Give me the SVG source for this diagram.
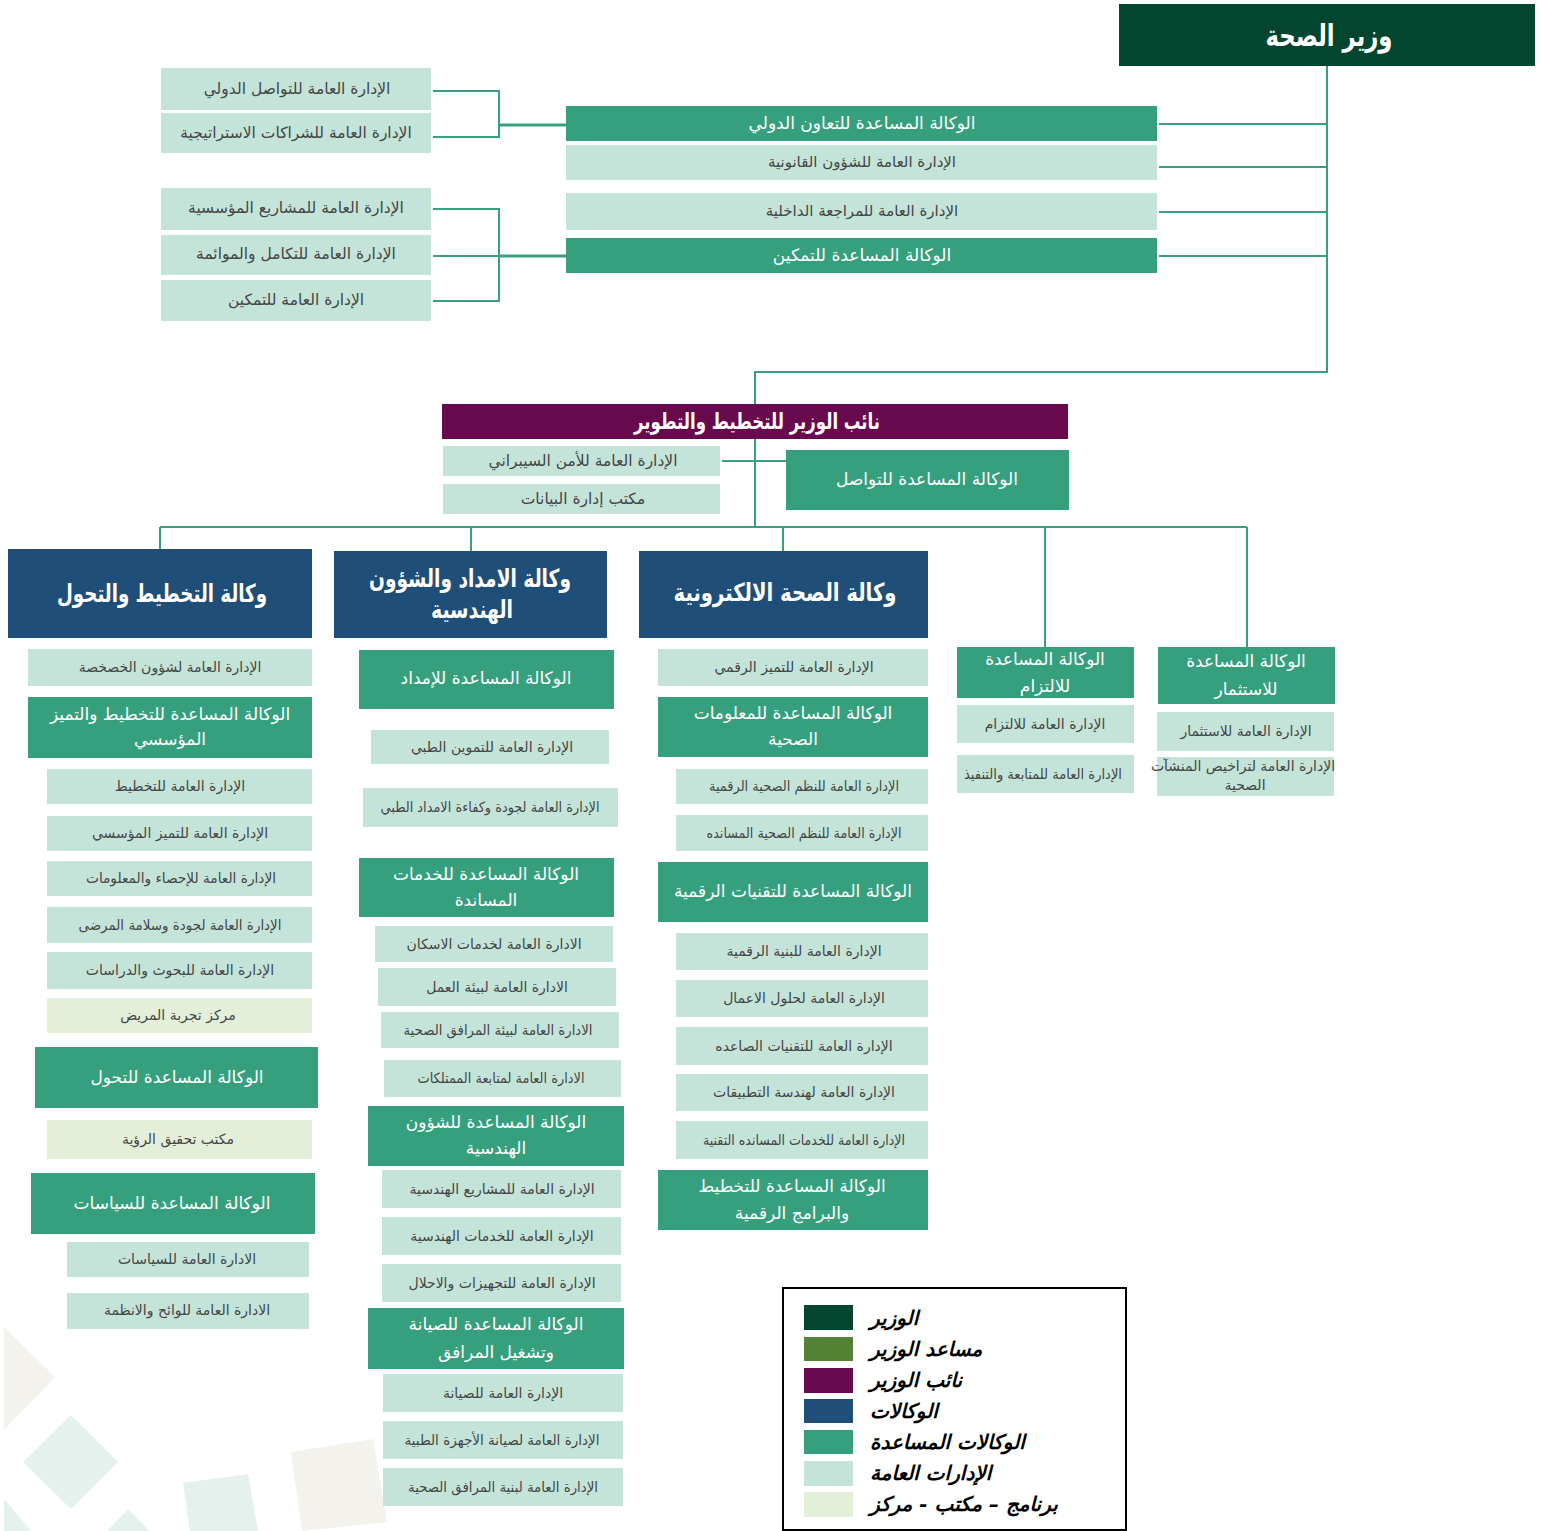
<svg xmlns="http://www.w3.org/2000/svg" width="1541" height="1531" viewBox="0 0 1541 1531">
<style>
.min{fill:#03452E}.dep{fill:#68084D}.ag{fill:#1F4E79}.asg{fill:#36A07E}.ga{fill:#C4E4DA}.pr{fill:#E3EFD8}
text{font-family:"DejaVu Sans",sans-serif;text-anchor:middle;dominant-baseline:central}
.t{fill:#454545;font-size:14px}
.tt{fill:#454545;font-size:15.5px}
.w{fill:#ffffff;font-size:17px}
.b{fill:#ffffff;font-size:25px;font-weight:bold}
.c path{fill:none;stroke:#3A9F7C;stroke-width:2}
.lg{fill:#000;font-size:20px;font-style:italic;font-weight:bold;text-anchor:start}
</style>
<rect width="1541" height="1531" fill="#ffffff"/>
<g id="decor">
<polygon points="4,1327 55,1377 4,1430" fill="#F3F2EC"/>
<polygon points="23,1462 71,1415 118,1462 71,1509" fill="#E4F1EC"/>
<polygon points="4,1499 31,1531 4,1531" fill="#E4F1EC"/>
<polygon points="107,1531 128,1509 150,1531" fill="#E4F1EC"/>
<polygon points="183,1483 248,1474 258,1531 190,1531" fill="#E4F1EC"/>
<polygon points="291,1452 373,1439 387,1522 302,1531" fill="#F3F2EC"/>
</g>
<g id="connectors" class="c">
<path d="M1327 66V372H755V404"/>
<path d="M1159 124H1327M1159 167H1327M1159 212H1327M1159 256H1327"/>
<path d="M433 91H499V137H433"/>
<path d="M499 125H566" style="stroke-width:3"/>
<path d="M433 209H499V301H433M433 256H499"/>
<path d="M499 256H566" style="stroke-width:3"/>
<path d="M755 439V527M722 461H786"/>
<path d="M160 527H1247M160 527V549M471 527V551M783 527V551M1045 527V647M1247 527V647"/>
</g>
<g id="minister"><rect class="min" x="1119" y="4" width="416" height="62"/><text class="b" x="1329" y="35" style="font-size:30px" textLength="127" lengthAdjust="spacingAndGlyphs">وزير الصحة</text></g>
<g id="ast-intl"><rect class="asg" x="566" y="106" width="591" height="35"/><text class="w" x="862" y="123">الوكالة المساعدة للتعاون الدولي</text></g>
<g id="ga-legal"><rect class="ga" x="566" y="145" width="591" height="35"/><text class="tt" x="862" y="162" style="font-size:15px">الإدارة العامة للشؤون القانونية</text></g>
<g id="ga-audit"><rect class="ga" x="566" y="193" width="591" height="37"/><text class="tt" x="862" y="211" style="font-size:15px">الإدارة العامة للمراجعة الداخلية</text></g>
<g id="ast-enable"><rect class="asg" x="566" y="238" width="591" height="35"/><text class="w" x="862" y="255">الوكالة المساعدة للتمكين</text></g>
<g id="ga-intlcomm"><rect class="ga" x="161" y="68" width="270" height="42"/><text class="tt" x="297" y="89">الإدارة العامة للتواصل الدولي</text></g>
<g id="ga-partner"><rect class="ga" x="161" y="113" width="270" height="40"/><text class="tt" x="296" y="133">الإدارة العامة للشراكات الاستراتيجية</text></g>
<g id="ga-projects"><rect class="ga" x="161" y="188" width="270" height="42"/><text class="tt" x="296" y="208">الإدارة العامة للمشاريع المؤسسية</text></g>
<g id="ga-integ"><rect class="ga" x="161" y="235" width="270" height="40"/><text class="tt" x="296" y="254">الإدارة العامة للتكامل والموائمة</text></g>
<g id="ga-enable"><rect class="ga" x="161" y="280" width="270" height="41"/><text class="tt" x="296" y="300">الإدارة العامة للتمكين</text></g>
<g id="deputy"><rect class="dep" x="442" y="404" width="626" height="35"/><text class="b" x="757" y="421" style="font-size:22px" textLength="246" lengthAdjust="spacingAndGlyphs">نائب الوزير للتخطيط والتطوير</text></g>
<g id="ga-cyber"><rect class="ga" x="443" y="446" width="277" height="30"/><text class="tt" x="583" y="461">الإدارة العامة للأمن السيبراني</text></g>
<g id="of-data"><rect class="ga" x="443" y="484" width="277" height="30"/><text class="tt" x="583" y="499">مكتب إدارة البيانات</text></g>
<g id="ast-comm"><rect class="asg" x="786" y="450" width="283" height="60"/><text class="w" x="927" y="479">الوكالة المساعدة للتواصل</text></g>

<g id="ag-plan"><rect class="ag" x="8" y="549" width="304" height="89"/><text class="b" x="162" y="593" textLength="210" lengthAdjust="spacingAndGlyphs">وكالة التخطيط والتحول</text></g>
<g id="ga-priv"><rect class="ga" x="28" y="649" width="284" height="37"/><text class="t" x="170" y="667">الإدارة العامة لشؤون الخصخصة</text></g>
<g id="ast-plan"><rect class="asg" x="28" y="697" width="284" height="61"/><text class="w" x="170" y="714">الوكالة المساعدة للتخطيط والتميز</text><text class="w" x="170" y="739">المؤسسي</text></g>
<g id="ga-planning"><rect class="ga" x="47" y="769" width="265" height="35"/><text class="t" x="180" y="786">الإدارة العامة للتخطيط</text></g>
<g id="ga-excel"><rect class="ga" x="47" y="816" width="265" height="35"/><text class="t" x="180" y="833">الإدارة العامة للتميز المؤسسي</text></g>
<g id="ga-stats"><rect class="ga" x="47" y="861" width="265" height="35"/><text class="t" x="181" y="878" textLength="190" lengthAdjust="spacingAndGlyphs">الإدارة العامة للإحصاء والمعلومات</text></g>
<g id="ga-quality"><rect class="ga" x="47" y="907" width="265" height="36"/><text class="t" x="180" y="925" textLength="203" lengthAdjust="spacingAndGlyphs">الإدارة العامة لجودة وسلامة المرضى</text></g>
<g id="ga-research"><rect class="ga" x="47" y="952" width="265" height="37"/><text class="t" x="180" y="970">الإدارة العامة للبحوث والدراسات</text></g>
<g id="pr-patient"><rect class="pr" x="47" y="998" width="265" height="35"/><text class="t" x="178" y="1015">مركز تجربة المريض</text></g>
<g id="ast-trans"><rect class="asg" x="35" y="1047" width="283" height="61"/><text class="w" x="177" y="1077">الوكالة المساعدة للتحول</text></g>
<g id="pr-vision"><rect class="pr" x="47" y="1120" width="265" height="39"/><text class="t" x="178" y="1139">مكتب تحقيق الرؤية</text></g>
<g id="ast-policy"><rect class="asg" x="31" y="1173" width="284" height="61"/><text class="w" x="172" y="1203">الوكالة المساعدة للسياسات</text></g>
<g id="ga-policy"><rect class="ga" x="67" y="1242" width="242" height="35"/><text class="t" x="187" y="1259">الادارة العامة للسياسات</text></g>
<g id="ga-regs"><rect class="ga" x="67" y="1293" width="242" height="36"/><text class="t" x="187" y="1310">الادارة العامة للوائح والانظمة</text></g>

<g id="ag-supply"><rect class="ag" x="334" y="551" width="273" height="87"/><text class="b" x="470" y="578" textLength="202" lengthAdjust="spacingAndGlyphs">وكالة الامداد والشؤون</text><text class="b" x="472" y="609" textLength="82" lengthAdjust="spacingAndGlyphs">الهندسية</text></g>
<g id="ast-supply"><rect class="asg" x="359" y="650" width="255" height="59"/><text class="w" x="486" y="678">الوكالة المساعدة للإمداد</text></g>
<g id="ga-medsup"><rect class="ga" x="371" y="730" width="238" height="34"/><text class="t" x="492" y="747">الإدارة العامة للتموين الطبي</text></g>
<g id="ga-supq"><rect class="ga" x="363" y="788" width="255" height="39"/><text class="t" x="490" y="807" textLength="219" lengthAdjust="spacingAndGlyphs">الإدارة العامة لجودة وكفاءة الامداد الطبي</text></g>
<g id="ast-support"><rect class="asg" x="359" y="858" width="255" height="59"/><text class="w" x="486" y="874">الوكالة المساعدة للخدمات</text><text class="w" x="486" y="900">المساندة</text></g>
<g id="ga-housing"><rect class="ga" x="375" y="926" width="238" height="36"/><text class="t" x="494" y="944">الادارة العامة لخدمات الاسكان</text></g>
<g id="ga-workenv"><rect class="ga" x="378" y="968" width="238" height="38"/><text class="t" x="497" y="987">الادارة العامة لبيئة العمل</text></g>
<g id="ga-facenv"><rect class="ga" x="381" y="1012" width="238" height="36"/><text class="t" x="498" y="1030" textLength="189" lengthAdjust="spacingAndGlyphs">الادارة العامة لبيئة المرافق الصحية</text></g>
<g id="ga-assets"><rect class="ga" x="384" y="1060" width="237" height="37"/><text class="t" x="501" y="1078" textLength="167" lengthAdjust="spacingAndGlyphs">الادارة العامة لمتابعة الممتلكات</text></g>
<g id="ast-eng"><rect class="asg" x="368" y="1106" width="256" height="60"/><text class="w" x="496" y="1122">الوكالة المساعدة للشؤون</text><text class="w" x="496" y="1148">الهندسية</text></g>
<g id="ga-engproj"><rect class="ga" x="382" y="1170" width="239" height="38"/><text class="t" x="502" y="1189">الإدارة العامة للمشاريع الهندسية</text></g>
<g id="ga-engserv"><rect class="ga" x="382" y="1217" width="239" height="38"/><text class="t" x="502" y="1236">الإدارة العامة للخدمات الهندسية</text></g>
<g id="ga-equip"><rect class="ga" x="382" y="1264" width="239" height="38"/><text class="t" x="502" y="1283">الإدارة العامة للتجهيزات والاحلال</text></g>
<g id="ast-maint"><rect class="asg" x="368" y="1308" width="256" height="61"/><text class="w" x="496" y="1324">الوكالة المساعدة للصيانة</text><text class="w" x="496" y="1352">وتشغيل المرافق</text></g>
<g id="ga-maint"><rect class="ga" x="383" y="1374" width="240" height="38"/><text class="t" x="503" y="1393">الإدارة العامة للصيانة</text></g>
<g id="ga-devmaint"><rect class="ga" x="383" y="1421" width="240" height="38"/><text class="t" x="502" y="1440" textLength="195" lengthAdjust="spacingAndGlyphs">الإدارة العامة لصيانة الأجهزة الطبية</text></g>
<g id="ga-facinfra"><rect class="ga" x="383" y="1468" width="240" height="38"/><text class="t" x="503" y="1487" textLength="190" lengthAdjust="spacingAndGlyphs">الإدارة العامة لبنية المرافق الصحية</text></g>

<g id="ag-ehealth"><rect class="ag" x="639" y="551" width="289" height="87"/><text class="b" x="785" y="592" textLength="223" lengthAdjust="spacingAndGlyphs">وكالة الصحة الالكترونية</text></g>
<g id="ga-digex"><rect class="ga" x="658" y="649" width="270" height="37"/><text class="t" x="794" y="667">الإدارة العامة للتميز الرقمي</text></g>
<g id="ast-info"><rect class="asg" x="658" y="697" width="270" height="60"/><text class="w" x="793" y="713">الوكالة المساعدة للمعلومات</text><text class="w" x="793" y="739">الصحية</text></g>
<g id="ga-dhs"><rect class="ga" x="676" y="769" width="252" height="35"/><text class="t" x="804" y="786" textLength="190" lengthAdjust="spacingAndGlyphs">الإدارة العامة للنظم الصحية الرقمية</text></g>
<g id="ga-shs"><rect class="ga" x="676" y="815" width="252" height="36"/><text class="t" x="804" y="833" textLength="195" lengthAdjust="spacingAndGlyphs">الإدارة العامة للنظم الصحية المسانده</text></g>
<g id="ast-tech"><rect class="asg" x="658" y="862" width="270" height="60"/><text class="w" x="793" y="891">الوكالة المساعدة للتقنيات الرقمية</text></g>
<g id="ga-infra"><rect class="ga" x="676" y="933" width="252" height="37"/><text class="t" x="804" y="951">الإدارة العامة للبنية الرقمية</text></g>
<g id="ga-bizsol"><rect class="ga" x="676" y="980" width="252" height="37"/><text class="t" x="804" y="998">الإدارة العامة لحلول الاعمال</text></g>
<g id="ga-emerg"><rect class="ga" x="676" y="1027" width="252" height="38"/><text class="t" x="804" y="1046">الإدارة العامة للتقنيات الصاعده</text></g>
<g id="ga-appeng"><rect class="ga" x="676" y="1074" width="252" height="37"/><text class="t" x="804" y="1092">الإدارة العامة لهندسة التطبيقات</text></g>
<g id="ga-techsup"><rect class="ga" x="676" y="1121" width="252" height="38"/><text class="t" x="804" y="1140" textLength="202" lengthAdjust="spacingAndGlyphs">الإدارة العامة للخدمات المسانده التقنية</text></g>
<g id="ast-digprog"><rect class="asg" x="658" y="1170" width="270" height="60"/><text class="w" x="792" y="1186">الوكالة المساعدة للتخطيط</text><text class="w" x="792" y="1213">والبرامج الرقمية</text></g>

<g id="ast-compl"><rect class="asg" x="957" y="647" width="177" height="51"/><text class="w" x="1045" y="659">الوكالة المساعدة</text><text class="w" x="1045" y="686">للالتزام</text></g>
<g id="ga-compl"><rect class="ga" x="957" y="705" width="177" height="38"/><text class="t" x="1045" y="724">الإدارة العامة للالتزام</text></g>
<g id="ga-follow"><rect class="ga" x="957" y="755" width="177" height="38"/><text class="t" x="1043" y="774" textLength="158" lengthAdjust="spacingAndGlyphs">الإدارة العامة للمتابعة والتنفيذ</text></g>
<g id="ast-invest"><rect class="asg" x="1158" y="647" width="177" height="57"/><text class="w" x="1246" y="661">الوكالة المساعدة</text><text class="w" x="1246" y="689">للاستثمار</text></g>
<g id="ga-invest"><rect class="ga" x="1157" y="712" width="177" height="39"/><text class="t" x="1246" y="731">الإدارة العامة للاستثمار</text></g>
<g id="ga-license"><rect class="ga" x="1157" y="757" width="177" height="39"/><text class="t" x="1243" y="766">الإدارة العامة لتراخيص المنشآت</text><text class="t" x="1245" y="785">الصحية</text></g>

<g id="legend">
<rect x="783" y="1288" width="343" height="242" fill="#fff" stroke="#000" stroke-width="2"/>
<rect x="804" y="1305" width="49" height="25" class="min"/><text class="lg" x="870" y="1318">الوزير</text>
<rect x="804" y="1337" width="49" height="24" fill="#548235"/><text class="lg" x="870" y="1349">مساعد الوزير</text>
<rect x="804" y="1368" width="49" height="25" class="dep"/><text class="lg" x="870" y="1380">نائب الوزير</text>
<rect x="804" y="1399" width="49" height="24" class="ag"/><text class="lg" x="870" y="1411">الوكالات</text>
<rect x="804" y="1430" width="49" height="24" class="asg"/><text class="lg" x="870" y="1442">الوكالات المساعدة</text>
<rect x="804" y="1461" width="49" height="25" class="ga"/><text class="lg" x="870" y="1473">الإدارات العامة</text>
<rect x="804" y="1492" width="49" height="25" class="pr"/><text class="lg" x="870" y="1504">برنامج – مكتب - مركز</text>
</g>
</svg>
